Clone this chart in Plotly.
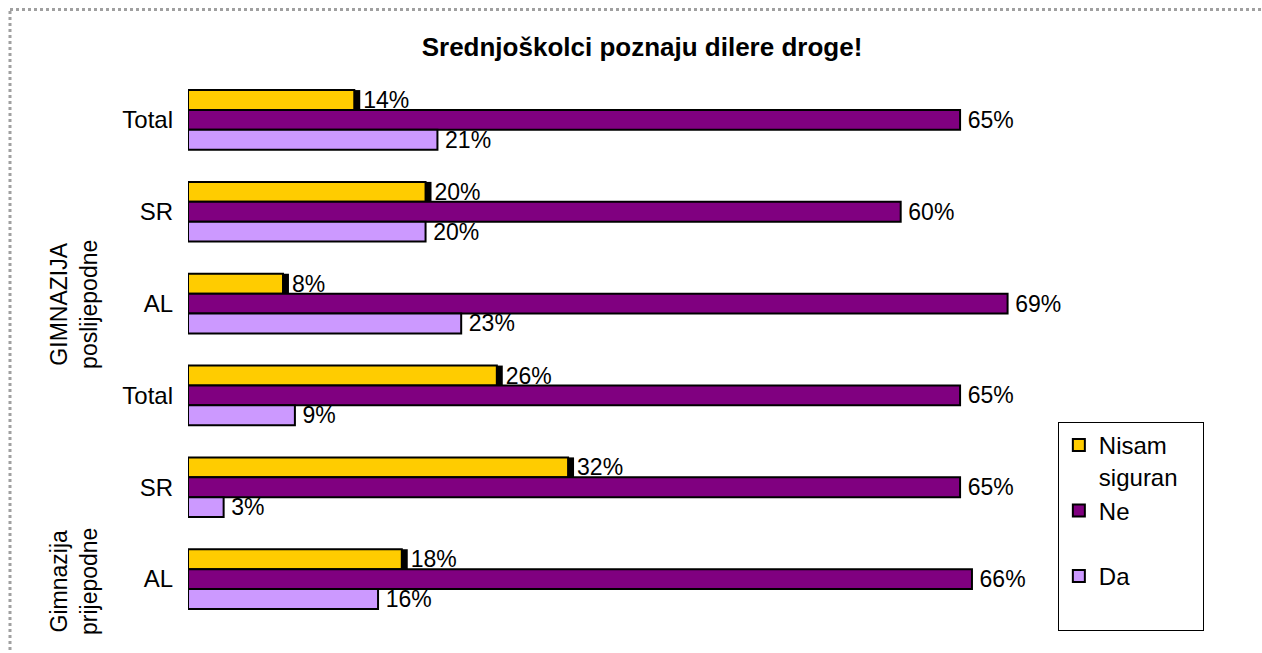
import plotly.graph_objects as go

# ---- data ----
categories = ["Total", "SR", "AL", "Total", "SR", "AL"]
group_labels = ["GIMNAZIJA<br>poslijepodne", "Gimnazija<br>prijepodne"]
series_names = ["Nisam&nbsp;&nbsp;&nbsp;<br>siguran&nbsp;&nbsp;&nbsp;", "Ne<br>&nbsp;", "Da<br>&nbsp;"]
nisam = [14, 20, 8, 26, 32, 18]
ne = [65, 60, 69, 65, 65, 66]
da = [21, 20, 23, 9, 3, 16]
colors = ["#FFCC00", "#800080", "#CC99FF"]
title = "Srednjoškolci poznaju dilere droge!"

FONT = "Liberation Sans, Arial, sans-serif"
LBL = 23
ypos = list(range(len(categories)))


def pct(vals, pad=""):
    return [f"{pad}{v}%" for v in vals]


fig = go.Figure()

# yellow series
fig.add_trace(go.Bar(
    y=ypos, x=nisam, orientation="h", name=series_names[0],
    offsetgroup="a", marker=dict(color=colors[0], line=dict(color="black", width=2)),
    hoverinfo="skip",
))
# small shadow at the end of the yellow bars (carries the labels)
fig.add_trace(go.Bar(
    y=ypos, x=[0.5] * len(nisam), base=nisam, orientation="h", showlegend=False,
    offsetgroup="a", marker=dict(color="black", line=dict(width=0)),
    text=pct(nisam), textposition="outside", cliponaxis=False, constraintext="none",
    textfont=dict(family=FONT, size=LBL, color="black"), hoverinfo="skip",
))
fig.add_trace(go.Bar(
    y=ypos, x=ne, orientation="h", name=series_names[1],
    offsetgroup="b", marker=dict(color=colors[1], line=dict(color="black", width=2)),
    text=pct(ne, "\u2009"), textposition="outside", cliponaxis=False, constraintext="none",
    textfont=dict(family=FONT, size=LBL, color="black"), hoverinfo="skip",
))
fig.add_trace(go.Bar(
    y=ypos, x=da, orientation="h", name=series_names[2],
    offsetgroup="c", marker=dict(color=colors[2], line=dict(color="black", width=2)),
    text=pct(da, "\u2009"), textposition="outside", cliponaxis=False, constraintext="none",
    textfont=dict(family=FONT, size=LBL, color="black"), hoverinfo="skip",
))

fig.update_layout(
    width=1262, height=653,
    margin=dict(l=188, r=217, t=74, b=28),
    paper_bgcolor="white", plot_bgcolor="white",
    barmode="group", bargap=0.35, bargroupgap=0,
    font=dict(family=FONT, size=LBL, color="black"),
    title=dict(text=f"<b>{title}</b>", x=642 / 1262, xref="container", xanchor="center",
               y=1 - 47 / 653, yref="container", yanchor="middle",
               font=dict(family=FONT, size=26, color="black")),
    xaxis=dict(range=[0, 72.15], showgrid=False, zeroline=False, showline=False,
               showticklabels=False, ticks=""),
    yaxis=dict(range=[5.5, -0.5], tickvals=ypos, ticktext=categories,
               showgrid=False, zeroline=False, showline=False, ticks="",
               ticklabelstandoff=14, tickfont=dict(family=FONT, size=24, color="black")),
    legend=dict(x=1.015, xanchor="left", y=(625 - 422) / 551, yanchor="top",
                bordercolor="black", borderwidth=1, bgcolor="white",
                font=dict(family=FONT, size=24, color="black"),
                valign="top", tracegroupgap=0),
    showlegend=True,
)

# group labels (rotated)
fig.add_annotation(text=group_labels[0], xref="paper", yref="paper", x=-0.133, y=0.581,
                   textangle=-90, showarrow=False, xanchor="center", yanchor="middle",
                   font=dict(family=FONT, size=LBL, color="black"))
fig.add_annotation(text=group_labels[1], xref="paper", yref="paper", x=-0.133, y=0.078,
                   textangle=-90, showarrow=False, xanchor="center", yanchor="middle",
                   font=dict(family=FONT, size=LBL, color="black"))

# dotted chart-area frame (top and left edges visible)
fig.add_shape(type="line", xref="paper", yref="paper", x0=-0.2077, x1=1.3, y0=1.117, y1=1.117,
              line=dict(color="#A0A0A0", width=3, dash="dot"))
fig.add_shape(type="line", xref="paper", yref="paper", x0=-0.2077, x1=-0.2077, y0=-0.1, y1=1.117,
              line=dict(color="#A0A0A0", width=3, dash="dot"))

fig.write_html("out.html", config={"displayModeBar": False},
               post_script="document.body.style.margin='0';")
